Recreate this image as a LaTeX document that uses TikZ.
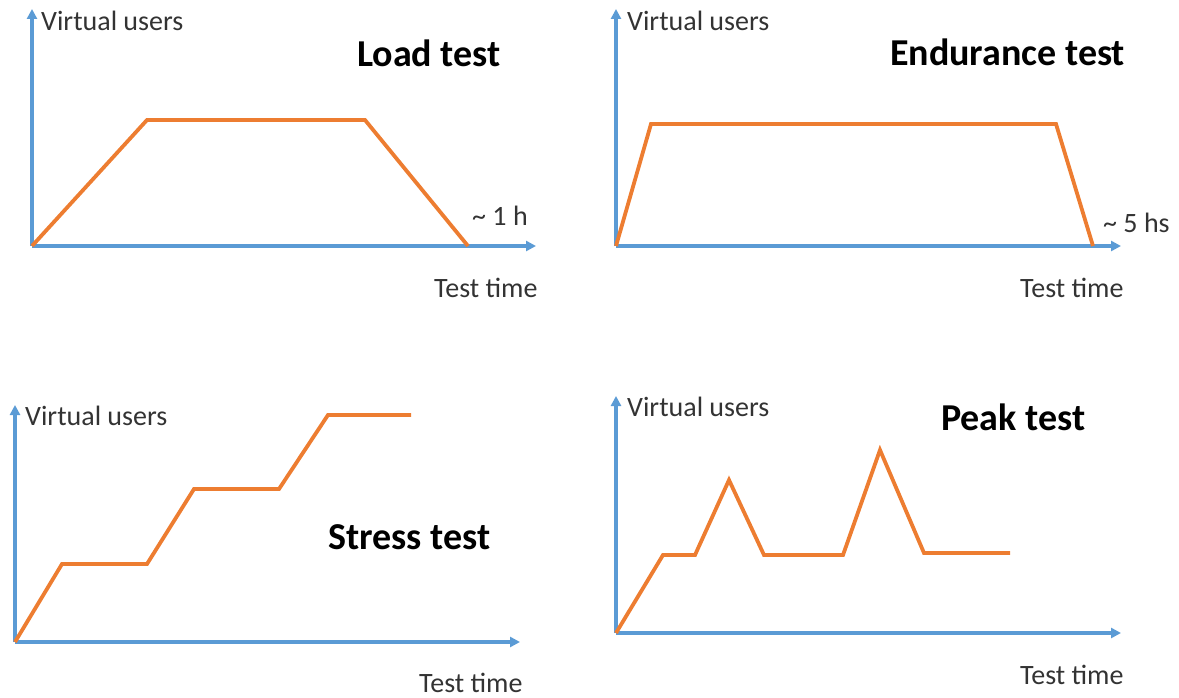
\documentclass[tikz,border=0pt]{standalone}
\usepackage{fontspec}
\setmainfont{Carlito}
\usetikzlibrary{arrows.meta}
\definecolor{axisblue}{HTML}{5B9BD5}
\definecolor{lineorange}{HTML}{ED7D31}
\definecolor{labelgray}{HTML}{333333}
\begin{document}
\begin{tikzpicture}[x=1pt,y=-1pt,
  axis/.style={draw=axisblue, line width=3.5pt, -{Triangle[length=10pt,width=10pt]}},
  curve/.style={draw=lineorange, line width=3.8pt, line join=miter},
  lbl/.style={inner sep=0pt, anchor=west, text=labelgray, font=\fontsize{28}{31}\selectfont},
  ttl/.style={inner sep=0pt, anchor=west, text=black, font=\bfseries\fontsize{38}{42}\selectfont}]
\useasboundingbox (0,0) rectangle (1179,698);

% ---------- Load test ----------
\coordinate (o1) at (32,246);
\coordinate (y1) at (32,9);
\coordinate (x1) at (536,246);
\draw[axis] (o1) -- (y1);
\draw[axis] (o1) -- (x1);
\coordinate (a1) at (147,120);
\coordinate (b1) at (365,120);
\coordinate (c1) at (468,246);
\draw[curve] (o1) -- (a1) -- (b1) -- (c1);
\node[lbl] (vu1) at (41,21) {Virtual users};
\node[ttl] (t1) at (357,53) {Load test};
\node[lbl] (d1) at (472,216) {\textasciitilde\ 1 h};
\node[lbl] (tt1) at (434,288) {Test time};

% ---------- Endurance test ----------
\coordinate (o2) at (616,246);
\coordinate (y2) at (616,9);
\coordinate (x2) at (1121,246);
\draw[axis] (o2) -- (y2);
\draw[axis] (o2) -- (x2);
\coordinate (a2) at (651,124);
\coordinate (b2) at (1056,124);
\coordinate (c2) at (1093,246);
\draw[curve] (o2) -- (a2) -- (b2) -- (c2);
\node[lbl] (vu2) at (627,21) {Virtual users};
\node[ttl] (t2) at (890,52) {Endurance test};
\node[lbl] (d2) at (1103,223) {\textasciitilde\ 5 hs};
\node[lbl] (tt2) at (1020,288) {Test time};

% ---------- Stress test ----------
\coordinate (o3) at (15,642);
\coordinate (y3) at (15,405);
\coordinate (x3) at (520,642);
\draw[axis] (o3) -- (y3);
\draw[axis] (o3) -- (x3);
\coordinate (p31) at (62,564);
\coordinate (p32) at (147,564);
\coordinate (p33) at (194,489);
\coordinate (p34) at (279,489);
\coordinate (p35) at (328,415);
\coordinate (p36) at (411,415);
\draw[curve] (o3) -- (p31) -- (p32) -- (p33) -- (p34) -- (p35) -- (p36);
\node[lbl] (vu3) at (25,416) {Virtual users};
\node[ttl] (t3) at (328,537) {Stress test};
\node[lbl] (tt3) at (419,683) {Test time};

% ---------- Peak test ----------
\coordinate (o4) at (616,633);
\coordinate (y4) at (616,396);
\coordinate (x4) at (1121,633);
\draw[axis] (o4) -- (y4);
\draw[axis] (o4) -- (x4);
\coordinate (p41) at (663,555);
\coordinate (p42) at (695,555);
\coordinate (p43) at (729,480);
\coordinate (p44) at (764,555);
\coordinate (p45) at (843,555);
\coordinate (p46) at (880,450);
\coordinate (p47) at (924,553);
\coordinate (p48) at (1010,553);
\draw[curve] (o4) -- (p41) -- (p42) -- (p43) -- (p44) -- (p45) -- (p46) -- (p47) -- (p48);
\node[lbl] (vu4) at (627,407) {Virtual users};
\node[ttl] (t4) at (941,417) {Peak test};
\node[lbl] (tt4) at (1020,675) {Test time};
\end{tikzpicture}
\end{document}
